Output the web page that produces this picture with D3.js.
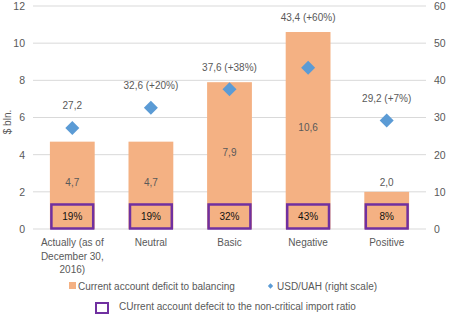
<!DOCTYPE html>
<html>
<head>
<meta charset="utf-8">
<script src="https://cdn.jsdelivr.net/npm/d3@7"></script>
<style>
  body { margin: 0; background: #fff; }
  text { font-family: "Liberation Sans", Arial, sans-serif; fill: #595959; }
</style>
</head>
<body>
<div id="chart"></div>
<script>
// Chart data
var categories = ["Actually (as of December 30, 2016)", "Neutral", "Basic", "Negative", "Positive"];
var categoryLines = [["Actually (as of", "December 30,", "2016)"], ["Neutral"], ["Basic"], ["Negative"], ["Positive"]];
var deficit = [4.7, 4.7, 7.9, 10.6, 2.0];
var deficitLabels = ["4,7", "4,7", "7,9", "10,6", "2,0"];
var usdUah = [27.2, 32.6, 37.6, 43.4, 29.2];
var usdLabels = ["27,2", "32,6 (+20%)", "37,6 (+38%)", "43,4 (+60%)", "29,2 (+7%)"];
var ratioBox = [1.4, 1.4, 1.4, 1.4, 1.4];
var ratioLabels = ["19%", "19%", "32%", "43%", "8%"];
var leftTicks = [0, 2, 4, 6, 8, 10, 12];
var rightTicks = [0, 10, 20, 30, 40, 50, 60];

var svgWidth = 454, svgHeight = 321;
var margin = { top: 6, right: 28, bottom: 92, left: 33 };
var width = svgWidth - margin.left - margin.right;
var height = svgHeight - margin.top - margin.bottom;

var svg = d3.select("#chart").append("svg")
    .attr("width", svgWidth)
    .attr("height", svgHeight);

var chartGroup = svg.append("g")
    .attr("transform", `translate(${margin.left}, ${margin.top})`);

// Scales
var xScale = d3.scaleBand().domain(categories).range([0, width]).paddingInner(0.43).paddingOuter(0.215);
var yLeft = d3.scaleLinear().domain([0, 12]).range([height, 0]);
var yRight = d3.scaleLinear().domain([0, 60]).range([height, 0]);

// Gridlines
chartGroup.selectAll(".grid").data(leftTicks).enter().append("line")
    .attr("x1", 0).attr("x2", width)
    .attr("y1", d => yLeft(d)).attr("y2", d => yLeft(d))
    .attr("stroke", "#d9d9d9").attr("stroke-width", 1);

// Axes (labels only)
var leftAxis = chartGroup.append("g")
    .call(d3.axisLeft(yLeft).tickValues(leftTicks).tickSize(0).tickPadding(8));
leftAxis.select(".domain").remove();
leftAxis.selectAll("text").style("font-size", "10.5px").attr("fill", "#595959");

var rightAxis = chartGroup.append("g")
    .attr("transform", `translate(${width}, 0)`)
    .call(d3.axisRight(yRight).tickValues(rightTicks).tickSize(0).tickPadding(8));
rightAxis.select(".domain").remove();
rightAxis.selectAll("text").style("font-size", "10.5px").attr("fill", "#595959");

// Y title
svg.append("text")
    .attr("transform", `translate(11, 122) rotate(-90)`)
    .attr("text-anchor", "middle")
    .style("font-size", "10px")
    .text("$ bln.");

// Bars
var idx = d3.range(categories.length);
chartGroup.selectAll(".bar").data(idx).enter().append("rect")
    .attr("x", i => xScale(categories[i]))
    .attr("y", i => yLeft(deficit[i]))
    .attr("width", xScale.bandwidth())
    .attr("height", i => height - yLeft(deficit[i]))
    .attr("fill", "#f4b183");

// Bar labels (inside when tall enough, else above)
chartGroup.selectAll(".barLabel").data(idx).enter().append("text")
    .attr("x", i => xScale(categories[i]) + xScale.bandwidth() / 2)
    .attr("y", i => deficit[i] > 3 ? (yLeft(deficit[i]) + height) / 2 - 3 : yLeft(deficit[i]) - 9)
    .attr("dy", "0.35em")
    .attr("text-anchor", "middle")
    .style("font-size", "10px")
    .attr("fill", "#404040")
    .text(i => deficitLabels[i]);

// Ratio boxes
chartGroup.selectAll(".box").data(idx).enter().append("rect")
    .attr("x", i => xScale(categories[i]) + 1.5)
    .attr("y", i => yLeft(ratioBox[i]) + 1.5)
    .attr("width", xScale.bandwidth() - 3)
    .attr("height", i => height - yLeft(ratioBox[i]) - 2)
    .attr("fill", "none")
    .attr("stroke", "#7030a0")
    .attr("stroke-width", 2.5);

chartGroup.selectAll(".boxLabel").data(idx).enter().append("text")
    .attr("x", i => xScale(categories[i]) + xScale.bandwidth() / 2)
    .attr("y", i => (yLeft(ratioBox[i]) + height) / 2 + 1)
    .attr("dy", "0.35em")
    .attr("text-anchor", "middle")
    .style("font-size", "10px")
    .style("fill", "#111")
    .text(i => ratioLabels[i]);

// USD/UAH diamonds
var diamond = d3.symbol().type(d3.symbolSquare).size(98);
chartGroup.selectAll(".pt").data(idx).enter().append("path")
    .attr("d", diamond)
    .attr("transform", i => `translate(${xScale(categories[i]) + xScale.bandwidth() / 2}, ${yRight(usdUah[i])}) rotate(45)`)
    .attr("fill", "#5b9bd5");

// Point labels sit above the diamond, or above the bar when the bar is higher
chartGroup.selectAll(".ptLabel").data(idx).enter().append("text")
    .attr("x", i => xScale(categories[i]) + xScale.bandwidth() / 2)
    .attr("y", i => Math.min(yRight(usdUah[i]) - 22, yLeft(deficit[i]) - 15))
    .attr("dy", "0.35em")
    .attr("text-anchor", "middle")
    .style("font-size", "10px")
    .attr("fill", "#404040")
    .text(i => usdLabels[i]);

// Category labels
var catGroup = chartGroup.selectAll(".cat").data(idx).enter().append("text")
    .attr("text-anchor", "middle")
    .style("font-size", "10px")
    .attr("transform", i => `translate(${xScale(categories[i]) + xScale.bandwidth() / 2}, ${height + 17})`);
catGroup.selectAll("tspan").data(i => categoryLines[i]).enter().append("tspan")
    .attr("x", 0)
    .attr("y", (d, j) => j * 13.5)
    .text(d => d);

// Legend
var legend = svg.append("g");
legend.append("rect").attr("x", 69).attr("y", 282).attr("width", 7).attr("height", 7).attr("fill", "#f4b183");
legend.append("text").attr("x", 78).attr("y", 289.5).style("font-size", "10px")
    .text("Current account deficit to balancing");
legend.append("path").attr("d", d3.symbol().type(d3.symbolSquare).size(14))
    .attr("transform", "translate(270.5, 286) rotate(45)").attr("fill", "#5b9bd5");
legend.append("text").attr("x", 277).attr("y", 289.5).style("font-size", "10px")
    .text("USD/UAH (right scale)");
legend.append("rect").attr("x", 96).attr("y", 303).attr("width", 12).attr("height", 10)
    .attr("fill", "none").attr("stroke", "#7030a0").attr("stroke-width", 2);
legend.append("text").attr("x", 119).attr("y", 309.5).style("font-size", "10px")
    .text("CUrrent account defecit to the non-critical import ratio");
</script>
</body>
</html>
